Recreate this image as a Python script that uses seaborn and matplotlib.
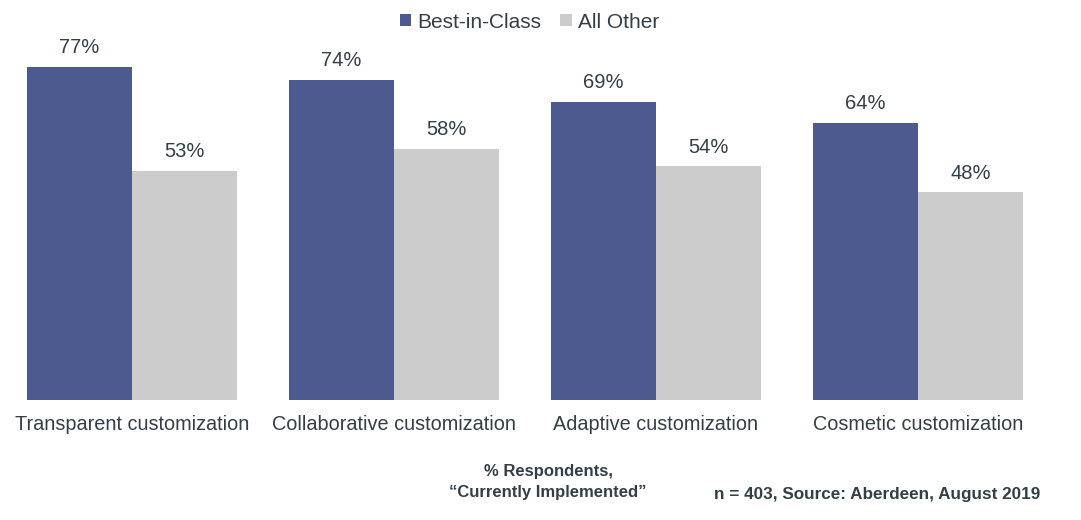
import pandas as pd
import matplotlib.pyplot as plt
import seaborn as sns

# Dados
categorias = ['Transparent customization', 'Collaborative customization',
              'Adaptive customization', 'Cosmetic customization']
best_in_class = [77, 74, 69, 64]
all_other = [53, 58, 54, 48]
series = ['Best-in-Class', 'All Other']

df = pd.DataFrame({
    'categoria': categorias * 2,
    'valor': best_in_class + all_other,
    'grupo': [series[0]] * 4 + [series[1]] * 4,
})

sns.set_style('white')
plt.rcParams['font.family'] = ['Liberation Sans', 'DejaVu Sans']
cor_texto = '#333f48'

fig = plt.figure(figsize=(10.81, 5.20), dpi=100)
ax = fig.add_axes([0, 120 / 520, 1, 400 / 520])

sns.barplot(data=df, x='categoria', y='valor', hue='grupo', ax=ax,
            palette=['#4d5a8f', '#cccccc'], width=0.8, saturation=1,
            linewidth=0, edgecolor='none')

# Rótulos de valor
for cont in ax.containers:
    ax.bar_label(cont, labels=[f'{v:.0f}%' for v in cont.datavalues],
                 padding=7, fontsize=14.5, color=cor_texto)

ax.set_xlim(-132 / 262, (1081 - 132) / 262)
ax.set_ylim(0, 400 / 4.325)
ax.set_xlabel('')
ax.set_ylabel('')
ax.set_yticks([])
ax.tick_params(axis='x', length=0, pad=11, labelsize=14.3, labelcolor=cor_texto)
for s in ax.spines.values():
    s.set_visible(False)

# Legenda
handles, labels = ax.get_legend_handles_labels()
ax.legend_.remove()
fig.legend(handles, labels, loc='center', bbox_to_anchor=(0.49, 1 - 22 / 520),
           ncol=2, frameon=False, fontsize=15, handlelength=0.55, handleheight=0.55,
           handletextpad=0.3, columnspacing=0.9, labelcolor=cor_texto)

fig.text(548 / 1081, 1 - 482 / 520, '% Respondents,\n\u201cCurrently Implemented\u201d',
         ha='center', va='center', fontsize=12, fontweight='bold', color=cor_texto,
         linespacing=1.5)
fig.text(1040 / 1081, 1 - 494 / 520, 'n = 403, Source: Aberdeen, August 2019',
         ha='right', va='center', fontsize=12.3, fontweight='bold', color=cor_texto)

fig.savefig('out.png', dpi=100)
